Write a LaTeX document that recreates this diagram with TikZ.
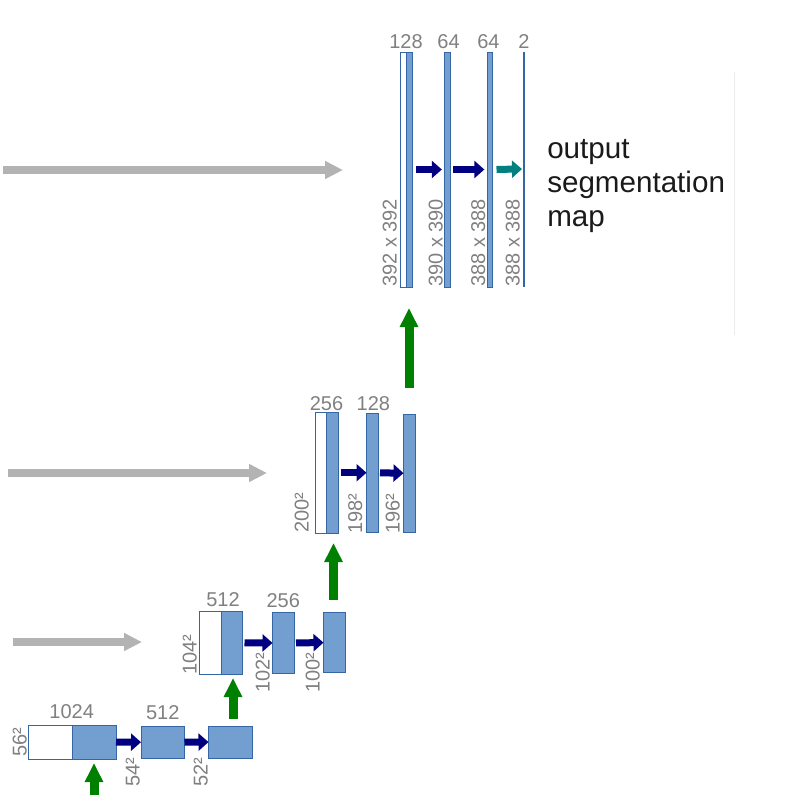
\documentclass[tikz,border=0pt]{standalone}
\usepackage{fontspec}
\setmainfont{Liberation Sans}
\usepackage{tikz}
\usetikzlibrary{arrows.meta}
\usetikzlibrary{fit}
\usetikzlibrary{positioning}

\definecolor{mapblue}{RGB}{114,159,207}
\definecolor{mapedge}{RGB}{52,101,164}
\definecolor{convnavy}{RGB}{0,0,128}
\definecolor{convteal}{RGB}{0,128,128}
\definecolor{upgreen}{RGB}{0,128,0}
\definecolor{copygray}{RGB}{179,179,179}
\definecolor{lblgray}{RGB}{128,128,128}

\begin{document}
\begin{tikzpicture}[x=0.75pt,y=0.75pt,yscale=-1,xscale=1,
    fmap/.style={draw=mapedge,fill=mapblue,line width=0.75pt,inner sep=0pt,outer sep=0pt},
    cmap/.style={draw=mapedge,fill=white,line width=0.75pt,inner sep=0pt,outer sep=0pt},
    numlbl/.style={text=lblgray,font=\fontsize{15}{18}\selectfont,inner sep=0pt},
    dimlbl/.style={numlbl,rotate=90,anchor=south west},
    convarr/.style={draw=convnavy,line width=5.25pt,-{Triangle[length=7.5pt,width=12.75pt]}},
    outarr/.style={convarr,draw=convteal},
    copyarr/.style={draw=copygray,line width=6pt,-{Triangle[length=13.5pt,width=12.75pt]}},
    uparr/.style={draw=upgreen,line width=6.75pt,-{Triangle[length=14.25pt,width=13pt]}}]
    %set diagram left start at 0, and has height of 804
    \useasboundingbox (0,0) rectangle (791,804);

    %Shape: Rectangle [level 1]
    \node[cmap, fit={(400,52) (406,287)}] (up1c) {};
    \node[fmap, fit={(406,52) (412.5,287)}] (up1a) {};
    \node[fmap, fit={(444.5,52) (450,287)}] (up1b) {};
    \node[fmap, fit={(487,52) (492.5,287)}] (up1d) {};
    \node[fmap, fit={(523.5,52) (524.5,286)}] (segout) {};

    %Shape: Rectangle [level 2]
    \node[cmap, fit={(315,412.5) (326.5,533)}] (up2c) {};
    \node[fmap, fit={(326.5,412.5) (338.5,533)}] (up2a) {};
    \node[fmap, fit={(366.5,413) (378,532.5)}] (up2b) {};
    \node[fmap, fit={(403.5,414) (415,532.5)}] (up2d) {};

    %Shape: Rectangle [level 3]
    \node[cmap, fit={(199.5,611.5) (221,674)}] (up3c) {};
    \node[fmap, fit={(221,611.5) (242.5,674)}] (up3a) {};
    \node[fmap, fit={(272.5,612.5) (294,673.5)}] (up3b) {};
    \node[fmap, fit={(323.5,612.5) (345,672.5)}] (up3d) {};

    %Shape: Rectangle [level 4]
    \node[cmap, fit={(28.5,725) (72.5,759)}] (up4c) {};
    \node[fmap, fit={(72.5,725) (116,759)}] (up4a) {};
    \node[fmap, fit={(141,726) (184.5,758.5)}] (up4b) {};
    \node[fmap, fit={(208.5,726) (252,758)}] (up4d) {};

    %Straight Lines [conv 3x3]
    \draw[convarr, shorten <=2.25pt, shorten >=2pt] (up1a) -- (up1b);
    \draw[convarr, shorten <=2.25pt, shorten >=2pt] (up1b) -- (up1d);
    \draw[outarr, shorten <=3pt, shorten >=1pt] (up1d) -- (segout);
    \draw[convarr, shorten <=1.5pt] (up2a) -- (up2b);
    \draw[convarr, shorten <=1.5pt] (up2b) -- (up2d);
    \draw[convarr, shorten <=1.5pt] (up3a) -- (up3b);
    \draw[convarr, shorten <=1.5pt] (up3b) -- (up3d);
    \draw[convarr] (up4a) -- (up4b);
    \draw[convarr] (up4b) -- (up4d);

    %Straight Lines [copy and crop]
    \coordinate (cp1s) at (3,170);   \coordinate (cp1e) at (343,170);
    \coordinate (cp2s) at (8,473);   \coordinate (cp2e) at (267,473);
    \coordinate (cp3s) at (13,642);  \coordinate (cp3e) at (142,642);
    \draw[copyarr] (cp1s) -- (cp1e);
    \draw[copyarr] (cp2s) -- (cp2e);
    \draw[copyarr] (cp3s) -- (cp3e);

    %Straight Lines [up-conv 2x2]
    \coordinate (uc1s) at (409,388);   \coordinate (uc1e) at (409,308);
    \coordinate (uc2s) at (333.5,600); \coordinate (uc2e) at (333.5,543);
    \coordinate (uc3s) at (233,719);   \coordinate (uc3e) at (233,678);
    \coordinate (uc4s) at (94,795);    \coordinate (uc4e) at (94,763);
    \draw[uparr] (uc1s) -- (uc1e);
    \draw[uparr] (uc2s) -- (uc2e);
    \draw[uparr] (uc3s) -- (uc3e);
    \draw[uparr] (uc4s) -- (uc4e);

    %Straight Lines
    \draw[color={rgb, 255:red, 236; green, 236; blue, 236 }, line width=0.75pt] (734,72) -- (734,335);

    % Text Node
    \node[numlbl, above=2.5pt of up1c.north east] (ch128) {128};
    \node[numlbl, above=2.5pt of up1b.north, xshift=1pt] (ch64a) {64};
    \node[numlbl, above=2.5pt of up1d.north, xshift=-1pt] (ch64b) {64};
    \node[numlbl, above=2.5pt of segout.north] (ch2) {2};
    \node[numlbl, above=1.2pt of up2c.north east] (ch256) {256};
    \node[numlbl, above=1.2pt of up2b.north, xshift=0.8pt] (ch128b) {128};
    \node[numlbl, above=3.3pt of up3c.north east, xshift=1.5pt] (ch512) {512};
    \node[numlbl, above=3.3pt of up3b.north] (ch256b) {256};
    \node[numlbl, above=4.3pt of up4c.north east, xshift=-0.6pt] (ch1024) {1024};
    \node[numlbl, above=4.3pt of up4b.north] (ch512b) {512};

    % Text Node
    \node[dimlbl] (sz392) at (397,287) {392 x 392};
    \node[dimlbl] (sz390) at (443,287) {390 x 390};
    \node[dimlbl] (sz388a) at (485.5,287) {388 x 388};
    \node[dimlbl] (sz388b) at (520,287) {388 x 388};
    \node[dimlbl] (sz200) at (309,533) {200²};
    \node[dimlbl] (sz198) at (362.5,534) {198²};
    \node[dimlbl] (sz196) at (400,534) {196²};
    \node[dimlbl] (sz104) at (197,675) {104²};
    \node[dimlbl] (sz102) at (270,693) {102²};
    \node[dimlbl] (sz100) at (320,693) {100²};
    \node[dimlbl] (sz56) at (27,757) {56²};
    \node[dimlbl] (sz54) at (140,787) {54²};
    \node[dimlbl] (sz52) at (208,787) {52²};

    % Text Node
    \node[anchor=west, align=left, inner sep=0pt, text={rgb,255:red,26;green,26;blue,26},
          font=\fontsize{22.2}{25.2}\selectfont] (segmap) at (547,186) {output\\segmentation\\map};

\end{tikzpicture}
\end{document}
